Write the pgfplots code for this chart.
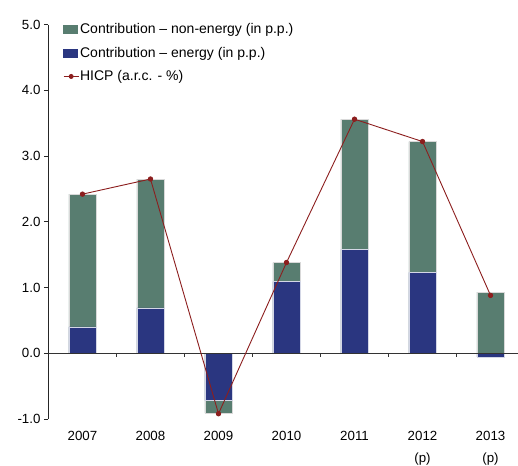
\documentclass[border=0pt]{standalone}
\usepackage{pgfplots}
\pgfplotsset{compat=1.18}
\usepackage{fontspec}
\setmainfont{Liberation Sans}
\definecolor{nonen}{RGB}{88,125,112}
\definecolor{en}{RGB}{42,54,128}
\definecolor{hicp}{RGB}{140,30,30}
\begin{document}
\begin{tikzpicture}
\useasboundingbox (-48pt,-46pt) rectangle (470pt,419pt);
\begin{axis}[
  at={(0,0)}, anchor=south west, scale only axis,
  width=470pt, height=394.5pt,
  xmin=-0.507, xmax=6.404, ymin=-1, ymax=5,
  axis y line*=left, axis x line*=bottom,
  x axis line style={draw=none},
  y axis line style={black!85, line width=0.6pt},
  tick align=outside,
  ytick={-1,0,1,2,3,4,5},
  yticklabels={-1.0,0.0,1.0,2.0,3.0,4.0,5.0},
  ytick style={black!85, line width=0.6pt},
  major tick length=4pt,
  xtick={0,1,2,3,4,5,6},
  xticklabels={2007,2008,2009,2010,2011,{2012\\(p)},{2013\\(p)}},
  xtick style={draw=none},
  xticklabel style={align=center, yshift=-5pt},
  tick label style={font=\fontsize{13.3}{22}\selectfont},
  clip=false,
  legend style={at={(0.032,1.006)}, anchor=north west, draw=none, fill=none,
    font=\fontsize{14}{16}\selectfont, row sep=10pt, inner sep=0pt,
    nodes={inner sep=1pt}},
  legend cell align=left,
]
\addplot[ybar, bar width=0.4, bar shift=0, fill=nonen, draw=white!85!black, line width=0.5pt,
  legend image code/.code={\fill[nonen] (0pt,-4pt) rectangle (14pt,4pt);}]
  coordinates {(0,2.42)(1,2.65)(2,-0.91)(3,1.38)(4,3.56)(5,3.22)(6,0.93)};
\addlegendentry{Contribution -- non-energy (in p.p.)}
\addplot[ybar, bar width=0.4, bar shift=0, fill=en, draw=white!80!en, line width=0.5pt,
  legend image code/.code={\fill[en] (0pt,-4pt) rectangle (14pt,4pt);}]
  coordinates {(0,0.40)(1,0.69)(2,-0.72)(3,1.09)(4,1.58)(5,1.23)(6,-0.055)};
\addlegendentry{Contribution -- energy (in p.p.)}
\draw[black!80, line width=0.6pt] (axis cs:-0.507,0) -- (axis cs:6.404,0);
\draw[black!80, line width=0.6pt] (axis cs:0.5,0) -- ([yshift=-4pt]axis cs:0.5,0);
\draw[black!80, line width=0.6pt] (axis cs:1.5,0) -- ([yshift=-4pt]axis cs:1.5,0);
\draw[black!80, line width=0.6pt] (axis cs:2.5,0) -- ([yshift=-4pt]axis cs:2.5,0);
\draw[black!80, line width=0.6pt] (axis cs:3.5,0) -- ([yshift=-4pt]axis cs:3.5,0);
\draw[black!80, line width=0.6pt] (axis cs:4.5,0) -- ([yshift=-4pt]axis cs:4.5,0);
\draw[black!80, line width=0.6pt] (axis cs:5.5,0) -- ([yshift=-4pt]axis cs:5.5,0);
\addplot[hicp, line width=0.9pt, mark=*, mark size=2.2pt,
  legend image code/.code={\draw[hicp, line width=0.9pt] (0pt,0pt) -- (15pt,0pt); \fill[hicp] (7.5pt,0pt) circle (2pt);}]
  coordinates {(0,2.42)(1,2.65)(2,-0.92)(3,1.38)(4,3.56)(5,3.22)(6,0.88)};
\addlegendentry{HICP (a.r.c. - \%)}
\end{axis}
\end{tikzpicture}
\end{document}
